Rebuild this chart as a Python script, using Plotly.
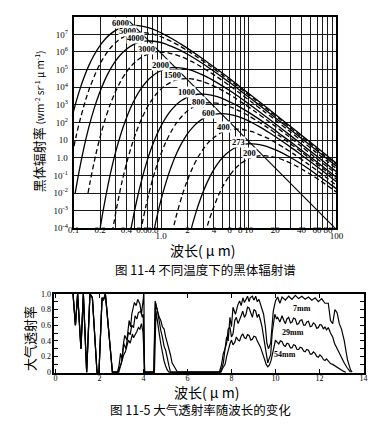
import plotly.graph_objects as go

W, H = 385, 434

# ---------------- Fig 11-4 : blackbody spectral radiance ----------------
wl_6000 = [0.0888, 0.0999, 0.1142, 0.1296, 0.1499, 0.1713, 0.1998, 0.2284, 0.2664, 0.3197, 0.3689, 0.4360, 0.4996, 0.5995, 0.7267, 0.8881, 1.090, 1.332, 1.713, 2.180, 2.998, 3.997, 5.329, 7.267, 9.992, 14.11, 19.98, 28.21, 39.97, 59.95, 99.92]
rad_6000 = [4.0e1, 4.5e2, 4.6e3, 3.0e4, 1.8e5, 6.7e5, 2.3e6, 5.3e6, 1.1e7, 2.0e7, 2.6e7, 3.1e7, 3.2e7, 2.9e7, 2.3e7, 1.6e7, 9.7e6, 5.6e6, 2.6e6, 1.2e6, 4.0e5, 1.4e5, 4.9e4, 1.5e4, 4.4e3, 1.15e3, 2.9e2, 75, 19, 3.8, 0.49]

wl_5000 = [0.0928, 0.1066, 0.1199, 0.1370, 0.1555, 0.1799, 0.2055, 0.2398, 0.2741, 0.3197, 0.3837, 0.4427, 0.5232, 0.5995, 0.7194, 0.8720, 1.066, 1.308, 1.599, 2.055, 2.616, 3.597, 4.796, 6.395, 8.720, 11.99, 16.93, 23.98, 33.85, 47.96, 71.94, 119.9]
rad_5000 = [0.59, 16, 1.8e2, 1.9e3, 1.2e4, 7.1e4, 2.7e5, 9.2e5, 2.1e6, 4.4e6, 7.9e6, 1.06e7, 1.25e7, 1.28e7, 1.15e7, 9.1e6, 6.3e6, 3.9e6, 2.3e6, 1.06e6, 4.9e5, 1.6e5, 5.7e4, 2.0e4, 6.1e3, 1.8e3, 4.6e2, 1.2e2, 30, 7.6, 1.5, 0.20]

wl_4000 = [0.104, 0.1160, 0.1332, 0.1499, 0.1713, 0.1944, 0.2248, 0.2569, 0.2998, 0.3426, 0.3997, 0.4796, 0.5534, 0.6540, 0.7494, 0.8993, 1.090, 1.332, 1.635, 1.998, 2.569, 3.270, 4.496, 5.995, 7.993, 10.90, 14.99, 21.16, 29.98, 42.32, 59.95, 89.93, 149.9]
rad_4000 = [9.2e-3, 0.19, 5.3, 60, 6.1e2, 3.9e3, 2.3e4, 8.8e4, 3.0e5, 7.0e5, 1.44e6, 2.6e6, 3.5e6, 4.1e6, 4.2e6, 3.8e6, 3.0e6, 2.0e6, 1.27e6, 7.4e5, 3.5e5, 1.6e5, 5.3e4, 1.9e4, 6.4e3, 2.0e3, 5.8e2, 1.5e2, 39, 9.9, 2.5, 0.50, 0.065]

wl_3000 = [0.146, 0.1547, 0.1776, 0.1998, 0.2284, 0.2592, 0.2998, 0.3426, 0.3997, 0.4568, 0.5329, 0.6395, 0.7378, 0.8720, 0.9992, 1.199, 1.453, 1.776, 2.180, 2.664, 3.426, 4.360, 5.995, 7.993, 10.66, 14.53, 19.98, 28.21, 39.97, 56.42, 79.93, 119.9]
rad_3000 = [1.0e-2, 4.6e-2, 1.26, 14, 1.45e2, 9.4e2, 5.5e3, 2.1e4, 7.2e4, 1.65e5, 3.4e5, 6.2e5, 8.2e5, 9.7e5, 9.9e5, 9.0e5, 7.0e5, 4.9e5, 3.0e5, 1.76e5, 8.3e4, 3.8e4, 1.26e4, 4.4e3, 1.5e3, 4.7e2, 1.4e2, 36, 9.2, 2.3, 0.59, 0.12]

wl_2000 = [0.1713, 0.1998, 0.2321, 0.2664, 0.2998, 0.3426, 0.3889, 0.4496, 0.5139, 0.5995, 0.6851, 0.7993, 0.9592, 1.107, 1.308, 1.499, 1.799, 2.180, 2.664, 3.270, 3.997, 5.139, 6.540, 8.993, 11.99, 15.99, 21.80, 29.98, 42.32, 59.95, 84.64, 119.9]
rad_2000 = [4.7e-7, 8.7e-5, 6.0e-3, 0.17, 1.9, 19, 1.2e2, 7.3e2, 2.8e3, 9.4e3, 2.2e4, 4.5e4, 8.1e4, 1.08e5, 1.28e5, 1.31e5, 1.18e5, 9.3e4, 6.4e4, 4.0e4, 2.3e4, 1.09e4, 5.0e3, 1.65e3, 5.8e2, 2.0e2, 62, 18, 4.7, 1.2, 0.31, 0.078]

wl_1500 = [0.2664, 0.3094, 0.3553, 0.3997, 0.4568, 0.5185, 0.5995, 0.6851, 0.7993, 0.9135, 1.066, 1.279, 1.476, 1.744, 1.998, 2.398, 2.907, 3.553, 4.360, 5.329, 6.851, 8.720, 11.99, 15.99, 21.32, 29.07, 39.97, 56.42, 79.93, 112.8]
rad_1500 = [2.1e-5, 1.4e-3, 4.0e-2, 0.44, 4.5, 29, 1.7e2, 6.6e2, 2.2e3, 5.2e3, 1.07e4, 1.9e4, 2.6e4, 3.0e4, 3.1e4, 2.8e4, 2.2e4, 1.5e4, 9.4e3, 5.5e3, 2.6e3, 1.18e3, 3.9e2, 1.4e2, 48, 15, 4.3, 1.1, 0.29, 0.073]

wl_1000 = [0.3997, 0.4641, 0.5329, 0.5995, 0.6851, 0.7777, 0.8993, 1.028, 1.199, 1.370, 1.599, 1.918, 2.214, 2.616, 2.998, 3.597, 4.360, 5.329, 6.540, 7.993, 10.28, 13.08, 17.99, 23.98, 31.97, 43.60, 59.95, 84.64, 119.9]
rad_1000 = [2.7e-6, 1.9e-4, 5.2e-3, 5.8e-2, 0.60, 3.9, 23, 86, 3.0e2, 6.8e2, 1.4e3, 2.5e3, 3.4e3, 4.0e3, 4.1e3, 3.7e3, 2.9e3, 2.0e3, 1.24e3, 7.2e2, 3.4e2, 1.55e2, 52, 18, 6.3, 1.9, 0.57, 0.15, 0.038]

wl_800 = [0.5802, 0.6661, 0.7494, 0.8564, 0.9722, 1.124, 1.285, 1.499, 1.713, 1.998, 2.398, 2.767, 3.270, 3.747, 4.496, 5.450, 6.661, 8.175, 9.992, 12.85, 16.35, 22.48, 29.98, 39.97, 54.50, 74.94, 105.8]
rad_800 = [6.2e-5, 1.7e-3, 1.9e-2, 0.20, 1.26, 7.4, 28, 97, 2.2e2, 4.6e2, 8.3e2, 1.1e3, 1.3e3, 1.34e3, 1.2e3, 9.5e2, 6.5e2, 4.1e2, 2.4e2, 1.1e2, 51, 17, 6.0, 2.1, 0.63, 0.19, 0.048]

wl_600 = [0.7735, 0.8881, 0.9992, 1.142, 1.296, 1.499, 1.713, 1.998, 2.284, 2.664, 3.197, 3.689, 4.360, 4.996, 5.995, 7.267, 8.881, 10.90, 13.32, 17.13, 21.80, 29.98, 39.97, 53.29, 72.67, 99.92]
rad_600 = [1.5e-5, 4.0e-4, 4.5e-3, 4.6e-2, 0.30, 1.8, 6.7, 23, 53, 1.1e2, 2.0e2, 2.6e2, 3.1e2, 3.2e2, 2.9e2, 2.3e2, 1.6e2, 97, 56, 26, 12, 4.0, 1.4, 0.49, 0.15, 0.044]

wl_400 = [1.332, 1.499, 1.713, 1.944, 2.248, 2.569, 2.998, 3.426, 3.997, 4.796, 5.534, 6.540, 7.494, 8.993, 10.90, 13.32, 16.35, 19.98, 25.69, 32.70, 44.96, 59.95, 79.93, 109.0]
rad_400 = [5.3e-5, 6.0e-4, 6.1e-3, 3.9e-2, 0.23, 0.88, 3.0, 7.0, 14, 26, 35, 41, 42, 38, 30, 20, 13, 7.4, 3.5, 1.6, 0.53, 0.19, 0.064, 0.020]

wl_273 = [1.952, 2.196, 2.510, 2.849, 3.294, 3.764, 4.392, 5.019, 5.856, 7.027, 8.108, 9.582, 10.98, 13.18, 15.97, 19.52, 23.95, 29.28, 37.64, 47.91, 65.88, 87.83, 117.1]
rad_273 = [7.9e-6, 8.9e-5, 9.1e-4, 5.8e-3, 3.4e-2, 0.13, 0.45, 1.03, 2.1, 3.8, 5.1, 6.1, 6.2, 5.6, 4.4, 3.0, 1.9, 1.1, 0.52, 0.24, 0.078, 0.028, 0.0095]

wl_200 = [2.998, 3.426, 3.889, 4.496, 5.139, 5.995, 6.851, 7.993, 9.592, 11.07, 13.08, 14.99, 17.99, 21.80, 26.64, 32.70, 39.97, 51.39, 65.40, 89.93, 119.9]
rad_200 = [1.9e-5, 1.9e-4, 1.2e-3, 7.3e-3, 2.8e-2, 9.4e-2, 0.22, 0.45, 0.81, 1.08, 1.28, 1.31, 1.18, 0.93, 0.64, 0.40, 0.23, 0.109, 0.050, 0.0165, 0.0058]

# peak locus (straight line through the maxima)
wien_wl = [0.42, 100]
wien_rad = [6.4e7, 8.4e-5]

temp_labels = ["6000", "5000", "4000", "3000", "2000", "1500", "1000", "800", "600", "400", "273", "200"]

# ---------------- Fig 11-5 : atmospheric transmittance ----------------
wl_common = [0.80, 0.91, 1.01, 1.16, 1.27, 1.42, 1.57, 1.68, 1.89, 1.98, 2.12, 2.18, 2.27, 2.37, 2.59]
tr_common = [1.00, 0.60, 1.00, 0.30, 1.00, 0.00, 1.00, 0.95, 0.00, 0.00, 0.95, 0.92, 1.00, 0.70, 0.00]

wl_7mm = [2.82, 2.90, 2.96, 3.03, 3.10, 3.15, 3.25, 3.35, 3.42, 3.47, 3.59, 3.67, 3.74, 3.84, 3.91, 3.98, 4.02, 4.05,
          4.47, 4.53, 4.60, 4.64, 4.72, 4.79, 4.86, 4.94, 5.01, 5.08, 5.16, 5.23, 5.30, 5.45, 5.55,
          7.45, 7.55, 7.63, 7.71, 7.78, 7.85, 7.93, 8.00, 8.07, 8.18, 8.29, 8.37, 8.44, 8.52, 8.59, 8.66,
          8.73, 8.80, 8.85, 8.95, 9.02, 9.10, 9.17, 9.25, 9.32, 9.40, 9.46, 9.54, 9.61, 9.68, 9.78, 9.90,
          10.0, 10.1, 10.2, 10.3, 10.45, 10.6, 10.75, 10.9, 11.05, 11.2, 11.35, 11.5, 11.65, 11.8, 11.95, 12.1, 12.25, 12.4,
          12.5, 12.6, 12.7, 12.8, 12.9, 13.0, 13.12, 13.27, 13.41, 13.48]
tr_7mm = [0.00, 0.10, 0.24, 0.16, 0.38, 0.47, 0.41, 0.66, 0.58, 0.74, 0.89, 0.85, 0.93, 0.87, 0.74, 0.87, 1.00, 0.00,
          0.00, 0.91, 0.80, 0.78, 0.70, 0.66, 0.58, 0.55, 0.45, 0.38, 0.28, 0.22, 0.12, 0.05, 0.00,
          0.00, 0.10, 0.24, 0.30, 0.45, 0.40, 0.70, 0.58, 0.83, 0.74, 0.86, 0.91, 0.85, 0.95, 0.89, 0.93,
          0.97, 0.90, 0.95, 0.97, 0.92, 0.97, 0.90, 0.93, 0.87, 0.82, 0.74, 0.58, 0.37, 0.30, 0.37, 0.78,
          0.91, 0.96, 0.88, 0.96, 0.92, 0.97, 0.93, 0.98, 0.94, 0.97, 0.93, 0.96, 0.92, 0.95, 0.90, 0.94, 0.88, 0.88,
          0.66, 0.62, 0.80, 0.76, 0.62, 0.55, 0.41, 0.16, 0.03, 0.00]

wl_29mm = [2.84, 2.93, 3.00, 3.06, 3.10, 3.20, 3.27, 3.32, 3.40, 3.47, 3.55, 3.62, 3.70, 3.77, 3.88, 3.95, 3.99, 4.04,
           4.47, 4.55, 4.64, 4.72, 4.79, 4.86, 4.94, 5.01, 5.08, 5.16, 5.23,
           7.47, 7.56, 7.63, 7.71, 7.78, 7.85, 7.93, 8.00, 8.07, 8.15, 8.22, 8.30, 8.37, 8.44, 8.51, 8.59, 8.66, 8.73,
           8.80, 8.88, 8.95, 9.02, 9.10, 9.17, 9.24, 9.32, 9.39, 9.46, 9.50, 9.58, 9.65, 9.72, 9.78, 9.85, 9.92, 9.97,
           10.05, 10.1, 10.2, 10.3, 10.38, 10.45, 10.52, 10.6, 10.68, 10.75, 10.82, 10.9, 10.98, 11.05, 11.12, 11.2,
           11.28, 11.35, 11.42, 11.5, 11.58, 11.65, 11.72, 11.8, 11.88, 11.95, 12.02, 12.1, 12.18, 12.25, 12.32, 12.4,
           12.5, 12.6, 12.68, 12.8, 12.9, 13.0, 13.12, 13.25, 13.41]
tr_29mm = [0.00, 0.08, 0.12, 0.25, 0.37, 0.30, 0.42, 0.51, 0.48, 0.60, 0.57, 0.72, 0.68, 0.76, 0.78, 0.70, 0.74, 0.00,
           0.00, 0.88, 0.78, 0.62, 0.53, 0.45, 0.33, 0.28, 0.16, 0.08, 0.00,
           0.00, 0.05, 0.12, 0.30, 0.37, 0.55, 0.58, 0.45, 0.49, 0.66, 0.70, 0.62, 0.66, 0.72, 0.78, 0.70, 0.74, 0.83,
           0.82, 0.74, 0.70, 0.80, 0.78, 0.70, 0.74, 0.66, 0.58, 0.45, 0.37, 0.20, 0.12, 0.18, 0.22, 0.50, 0.66, 0.74,
           0.68, 0.70, 0.64, 0.72, 0.66, 0.62, 0.68, 0.70, 0.63, 0.64, 0.69, 0.68, 0.61, 0.62, 0.66, 0.67,
           0.60, 0.60, 0.64, 0.65, 0.58, 0.59, 0.63, 0.61, 0.56, 0.57, 0.61, 0.60, 0.55, 0.58, 0.54, 0.57,
           0.50, 0.45, 0.37, 0.30, 0.24, 0.18, 0.12, 0.06, 0.00]

wl_54mm = [2.88, 2.96, 3.03, 3.10, 3.18, 3.25, 3.32, 3.40, 3.50, 3.55, 3.62, 3.70, 3.77, 3.84, 3.91, 3.98, 4.06,
           4.50, 4.57, 4.64, 4.72, 4.79, 4.86, 4.94, 5.01, 5.08, 5.16,
           7.52, 7.60, 7.71, 7.78, 7.85, 7.93, 8.00, 8.07, 8.15, 8.22, 8.30, 8.37, 8.44, 8.51, 8.59, 8.66, 8.73,
           8.80, 8.88, 8.95, 9.02, 9.10, 9.17, 9.24, 9.32, 9.39, 9.46, 9.50, 9.58, 9.65, 9.72, 9.80, 9.88, 9.95,
           10.0, 10.08, 10.15, 10.22, 10.3, 10.38, 10.45, 10.52, 10.6, 10.68, 10.75, 10.82, 10.9, 10.98, 11.05,
           11.12, 11.2, 11.28, 11.35, 11.42, 11.5, 11.58, 11.65, 11.72, 11.8, 11.88, 11.95, 12.02, 12.1, 12.18,
           12.25, 12.32, 12.4,
           12.5, 12.6, 12.7, 12.8, 12.9, 13.0, 13.1, 13.2]
tr_54mm = [0.00, 0.08, 0.16, 0.22, 0.26, 0.33, 0.41, 0.37, 0.49, 0.44, 0.47, 0.52, 0.57, 0.55, 0.62, 0.51, 0.00,
           0.00, 0.78, 0.62, 0.49, 0.36, 0.24, 0.14, 0.08, 0.03, 0.00,
           0.00, 0.05, 0.10, 0.20, 0.28, 0.36, 0.41, 0.35, 0.38, 0.45, 0.41, 0.40, 0.46, 0.49, 0.44, 0.43, 0.48,
           0.47, 0.41, 0.42, 0.46, 0.45, 0.40, 0.37, 0.32, 0.26, 0.20, 0.15, 0.10, 0.07, 0.09, 0.15, 0.26, 0.36,
           0.41, 0.38, 0.36, 0.40, 0.39, 0.34, 0.33, 0.37, 0.36, 0.31, 0.31, 0.35, 0.34, 0.29, 0.29,
           0.32, 0.31, 0.27, 0.26, 0.29, 0.28, 0.23, 0.23, 0.26, 0.24, 0.20, 0.19, 0.22, 0.20, 0.16,
           0.15, 0.17, 0.14,
           0.11, 0.10, 0.08, 0.07, 0.05, 0.03, 0.01, 0.00]

water_labels = ["7mm", "29mm", "54mm"]

# ---------------- figure ----------------
def px(x):
    return x / W

def py(y):
    return 1 - y / H

SERIF = "Liberation Serif"
CJK = "Noto Sans CJK SC"

fig = go.Figure()

bb = [(wl_6000, rad_6000, "solid"), (wl_5000, rad_5000, "5px,3px"),
      (wl_4000, rad_4000, "solid"), (wl_3000, rad_3000, "5px,3px"),
      (wl_2000, rad_2000, "solid"), (wl_1500, rad_1500, "5px,3px"),
      (wl_1000, rad_1000, "solid"), (wl_800, rad_800, "5px,3px"),
      (wl_600, rad_600, "solid"), (wl_400, rad_400, "5px,3px"),
      (wl_273, rad_273, "solid"), (wl_200, rad_200, "5px,3px")]
for wl, rad, dash in bb:
    fig.add_trace(go.Scatter(x=wl, y=rad, mode="lines", xaxis="x", yaxis="y",
                             line=dict(color="black", width=1.3, dash=dash, shape="spline", smoothing=0.8),
                             showlegend=False, hoverinfo="skip"))
# peak locus drawn on the overlaid x axis (same range/domain) so that axis is rendered
fig.add_trace(go.Scatter(x=wien_wl, y=wien_rad, mode="lines", xaxis="x3", yaxis="y",
                         line=dict(color="black", width=1.1), showlegend=False, hoverinfo="skip"))

for wl, tr in [(wl_7mm, tr_7mm), (wl_29mm, tr_29mm), (wl_54mm, tr_54mm)]:
    fig.add_trace(go.Scatter(x=wl_common + wl, y=tr_common + tr, mode="lines", xaxis="x2", yaxis="y2",
                             line=dict(color="black", width=1.2), showlegend=False, hoverinfo="skip"))

x_grid = [0.1, 0.2, 0.3, 0.4, 0.5, 0.6, 0.7, 0.8, 0.9, 1, 2, 3, 4, 5, 6, 7, 8, 9,
          10, 20, 30, 40, 50, 60, 70, 80, 90, 100]
x_text = ["0.1", "0.2", "", "0.4", "", "0.6", "", "0.8", "", "", "2", "", "4", "", "6", "", "8", "",
          "10", "20", "", "40", "", "60", "", "80", "", ""]
y_vals = [1e-4, 1e-3, 1e-2, 1e-1, 1, 10, 1e2, 1e3, 1e4, 1e5, 1e6, 1e7, 1e8]
y_text = ["10<sup>-4</sup>", "10<sup>-3</sup>", "10<sup>-2</sup>", "10<sup>-1</sup>", "1.0", "10",
          "10<sup>2</sup>", "10<sup>3</sup>", "10<sup>4</sup>", "10<sup>5</sup>", "10<sup>6</sup>",
          "10<sup>7</sup>", ""]

tick_font = dict(family=SERIF, size=9, color="black")
dom_x1 = [px(70), px(342)]
dom_y1 = [py(229), py(13)]
dom_x2 = [px(50), px(370)]
dom_y2 = [py(377), py(296)]

fig.update_layout(
    width=W, height=H, margin=dict(l=0, r=0, t=0, b=0),
    paper_bgcolor="white", plot_bgcolor="white", showlegend=False,
    xaxis=dict(type="log", range=[-1, 2], domain=dom_x1, anchor="y",
               tickvals=x_grid, ticktext=x_text, ticks="", showgrid=True, tickangle=0,
               gridcolor="#1a1a1a", gridwidth=1, showline=True, mirror=True,
               linecolor="black", linewidth=2, zeroline=False, tickfont=tick_font,
               ticklabelstandoff=-8),
    xaxis3=dict(type="log", range=[-1, 2], domain=dom_x1, anchor="y", overlaying="x",
                tickvals=[1, 100], ticktext=["1.0", "100"], ticks="", showgrid=False, tickangle=0,
                showline=False, zeroline=False, tickfont=tick_font, ticklabelstandoff=1),
    yaxis=dict(type="log", range=[-4, 8], domain=dom_y1, anchor="x",
               tickvals=y_vals, ticktext=y_text, ticks="", showgrid=True,
               gridcolor="#1a1a1a", gridwidth=1, showline=True, mirror=True,
               linecolor="black", linewidth=2, zeroline=False, tickfont=tick_font,
               ticklabelstandoff=2),
    xaxis2=dict(range=[-0.05, 14], domain=dom_x2, anchor="y2",
                tickvals=[0, 2, 4, 6, 8, 10, 12, 14], tickangle=0,
                ticks="inside", ticklen=4, tickcolor="black", showgrid=False,
                showline=True, mirror="allticks", linecolor="black", linewidth=1.5,
                zeroline=False, tickfont=dict(family=SERIF, size=8, color="black"),
                ticklabelstandoff=-4),
    yaxis2=dict(range=[-0.0125, 1.0], domain=dom_y2, anchor="x2",
                tickvals=[0, 0.1, 0.2, 0.3, 0.4, 0.5, 0.6, 0.7, 0.8, 0.9, 1.0],
                ticktext=["0", "", "0.2", "", "0.4", "", "0.6", "", "0.8", "", "1.0"],
                ticks="inside", ticklen=4, tickcolor="black", showgrid=False,
                showline=True, mirror="allticks", linecolor="black", linewidth=1.5,
                zeroline=False, tickfont=dict(family=SERIF, size=8, color="black")),
)

ann = []
label_px = [(119, 19), (126, 28), (134, 35), (145, 46), (160, 62), (172, 73),
            (187, 90), (199, 100), (210, 111), (225, 126), (241, 141), (252, 152)]
for t, (lx, ly) in zip(temp_labels, label_px):
    ann.append(dict(x=px(lx), y=py(ly), xref="paper", yref="paper", text="<b>" + t + "</b>",
                    xanchor="center", yanchor="middle",
                    showarrow=False, font=dict(family=SERIF, size=8.5, color="black"),
                    bgcolor="white", borderpad=0))

water_px = [(306, 311), (297, 335), (289, 358)]
for t, (lx, ly) in zip(water_labels, water_px):
    ann.append(dict(x=px(lx), y=py(ly), xref="paper", yref="paper", text="<b>" + t + "</b>",
                    xanchor="center", yanchor="middle",
                    showarrow=False, font=dict(family=SERIF, size=8, color="black")))

texts = [
    (34, 120, "黑体辐射率 <span style='font-size:10px'>(wm<sup>-2</sup> sr<sup>-1</sup> μ m<sup>-1</sup>)</span>", 13, -90),
    (204, 251, "波长( μ m)", 14, 0),
    (206, 271, "图 11-4 不同温度下的黑体辐射谱", 12.5, 0),
    (25, 342, "大气透射率", 13, -90),
    (208, 396, "波长( μ m)", 14, 0),
    (201, 414, "图 11-5 大气透射率随波长的变化", 12.5, 0),
]
for tx, ty, t, s, ang in texts:
    ann.append(dict(x=px(tx), y=py(ty), xref="paper", yref="paper", text=t, showarrow=False,
                    xanchor="center", yanchor="middle",
                    textangle=ang, font=dict(family=CJK, size=s, color="black")))

fig.update_layout(annotations=ann)
fig.write_html("out.html", config={"displayModeBar": False},
               post_script="document.body.style.margin='0';document.body.style.padding='0';")
